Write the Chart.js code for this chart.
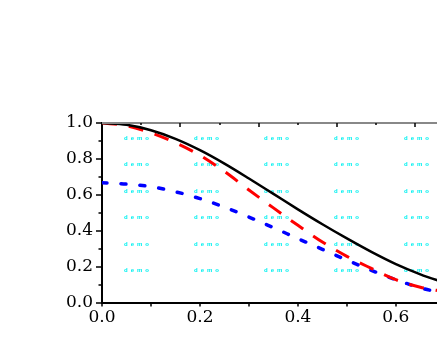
<!DOCTYPE html>
<html>
<head>
<meta charset="utf-8">
<script src="https://cdn.jsdelivr.net/npm/chart.js@4.4.1/dist/chart.umd.min.js"></script>
<style>
  html, body { margin: 0; padding: 0; background: #fff; }
  #wrap { width: 437px; height: 345px; }
</style>
</head>
<body>
<div id="wrap"><canvas id="myChart" width="437" height="345"></canvas></div>
<script>
const xValues = [0, 0.05, 0.1, 0.15, 0.2, 0.25, 0.3, 0.35, 0.4, 0.45, 0.5, 0.55, 0.6, 0.65, 0.7];
const solidValues = [1.0, 0.99, 0.96, 0.912, 0.849, 0.774, 0.691, 0.605, 0.519, 0.436, 0.357, 0.282, 0.214, 0.157, 0.11];
const dashedValues = [1.0, 0.985, 0.945, 0.89, 0.82, 0.73, 0.627, 0.527, 0.43, 0.337, 0.257, 0.19, 0.127, 0.085, 0.06];
const dottedValues = [0.667, 0.66, 0.645, 0.617, 0.579, 0.531, 0.476, 0.417, 0.356, 0.296, 0.236, 0.179, 0.127, 0.082, 0.05];

const bottomTicks = [0, 0.1, 0.2, 0.3, 0.4, 0.5, 0.6];
const leftTicks = [0, 0.1, 0.2, 0.3, 0.4, 0.5, 0.6, 0.7, 0.8, 0.9, 1.0];
const topTicks = [0.08, 0.16, 0.24, 0.32, 0.40, 0.48, 0.56, 0.64];
const watermark = "demo";

const toPoints = (ys) => ys.map((y, i) => ({ x: xValues[i], y: y }));
const isMajor = (v) => Math.round(v * 10) % 2 === 0;

// tick marks, top frame and watermark drawn on the library's scales
const framePlugin = {
  id: "frame",
  beforeDatasetsDraw(chart) {
    const ctx = chart.ctx;
    const a = chart.chartArea;
    ctx.save();
    ctx.fillStyle = "#00f0f0";
    ctx.font = "bold 6px 'Liberation Sans'";
    ctx.letterSpacing = "3px";
    ctx.textBaseline = "middle";
    for (let r = 0; r < 6; r++) {
      for (let c = 0; c < 5; c++) {
        ctx.fillText(watermark, a.left + 22 + c * 70, a.top + 15 + r * 26.5);
      }
    }
    ctx.restore();
  },
  afterDraw(chart) {
    const ctx = chart.ctx;
    const a = chart.chartArea;
    const xs = chart.scales.x;
    const ys = chart.scales.y;
    ctx.save();
    ctx.strokeStyle = "#888";
    ctx.lineWidth = 2;
    ctx.beginPath();
    ctx.moveTo(a.left, a.top);
    ctx.lineTo(a.right, a.top);
    ctx.stroke();

    ctx.strokeStyle = "#000";
    ctx.lineWidth = 1.5;
    ctx.beginPath();
    topTicks.forEach((v, i) => {
      const px = Math.round(xs.getPixelForValue(v));
      const len = i % 2 === 1 ? 4 : 2;
      ctx.moveTo(px, a.top);
      ctx.lineTo(px, a.top + len);
    });
    bottomTicks.forEach((v) => {
      const px = Math.round(xs.getPixelForValue(v));
      ctx.moveTo(px, a.bottom);
      ctx.lineTo(px, a.bottom + 4);
    });
    leftTicks.forEach((v) => {
      const py = Math.round(ys.getPixelForValue(v));
      const len = isMajor(v) ? 6 : 3.5;
      ctx.moveTo(a.left - len, py);
      ctx.lineTo(a.left, py);
    });
    ctx.stroke();
    ctx.restore();
  }
};

const data = {
  datasets: [
    {
      label: "solid",
      data: toPoints(solidValues),
      borderColor: "#000000",
      borderWidth: 2.5,
      pointRadius: 0,
      cubicInterpolationMode: "monotone"
    },
    {
      label: "dashed",
      data: toPoints(dashedValues),
      borderColor: "#ff0000",
      borderWidth: 3,
      borderDash: [15, 12],
      pointRadius: 0,
      cubicInterpolationMode: "monotone"
    },
    {
      label: "dotted",
      data: toPoints(dottedValues),
      borderColor: "#0000ff",
      borderWidth: 3.5,
      borderDash: [5, 14],
      borderCapStyle: "round",
      pointRadius: 0,
      cubicInterpolationMode: "monotone"
    }
  ]
};

const config = {
  type: "line",
  data: data,
  plugins: [framePlugin],
  options: {
    responsive: false,
    animation: false,
    layout: { padding: { top: 123, right: 0, left: 0, bottom: 0 } },
    plugins: { legend: { display: false }, tooltip: { enabled: false } },
    scales: {
      x: {
        type: "linear",
        min: 0,
        max: 0.684,
        afterBuildTicks: (s) => { s.ticks = bottomTicks.map((v) => ({ value: v })); },
        afterFit: (s) => { s.height = 42.5; },
        grid: { display: false, drawTicks: false },
        border: { display: true, color: "#000", width: 2 },
        ticks: {
          autoSkip: false,
          maxRotation: 0,
          padding: 5,
          color: "#000",
          font: { family: "'DejaVu Serif'", size: 17 },
          callback: (v) => (isMajor(v) ? v.toFixed(1) : "")
        }
      },
      y: {
        min: 0,
        max: 1,
        afterBuildTicks: (s) => { s.ticks = leftTicks.map((v) => ({ value: v })); },
        afterFit: (s) => { s.width = 102; },
        grid: { display: false, drawTicks: false },
        border: { display: true, color: "#000", width: 2 },
        ticks: {
          autoSkip: false,
          padding: 9,
          color: "#000",
          font: { family: "'DejaVu Serif'", size: 17 },
          callback: (v) => (isMajor(v) ? v.toFixed(1) : "")
        }
      }
    }
  }
};

const myChart = new Chart(document.getElementById("myChart"), config);
</script>
</body>
</html>
